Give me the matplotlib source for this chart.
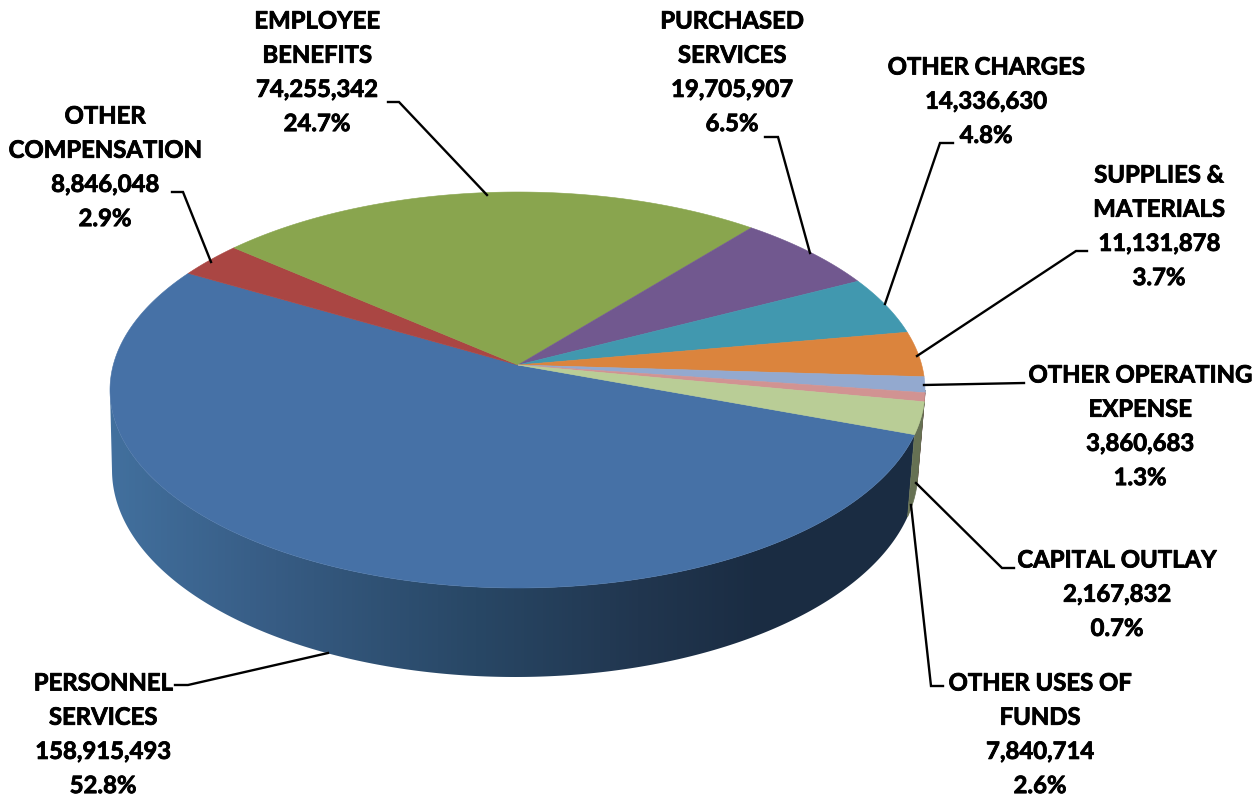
import numpy as np
import matplotlib
matplotlib.use('Agg')
import matplotlib.pyplot as plt
import matplotlib.patheffects as pe
from matplotlib.colors import LinearSegmentedColormap
from matplotlib.patches import Polygon

plt.rcParams['font.family'] = ['Lato', 'DejaVu Sans']

# clockwise from the personnel slice
names = ['PERSONNEL\nSERVICES', 'OTHER\nCOMPENSATION', 'EMPLOYEE\nBENEFITS', 'PURCHASED\nSERVICES',
         'OTHER CHARGES', 'SUPPLIES &\nMATERIALS', 'OTHER OPERATING\nEXPENSE', 'CAPITAL OUTLAY',
         'OTHER USES OF\nFUNDS']
values = [158915493, 8846048, 74255342, 19705907, 14336630, 11131878, 3860683, 2167832, 7840714]
percents = ['52.8%', '2.9%', '24.7%', '6.5%', '4.8%', '3.7%', '1.3%', '0.7%', '2.6%']
colors = ['#4671a6', '#aa4643', '#89a54e', '#71588f', '#4198af', '#db843d', '#93a9cf', '#d19392', '#b9cd96']

# label centre and y of first line
label_pos = [(103, 682), (105, 115), (317, 20), (732, 20), (986, 66), (1159, 174), (1140, 374), (1117, 559), (1040, 682)]

# leader lines
leaders = [
    [(328, 653), (188, 685), (175, 685)],
    [(211, 262), (183, 192), (172, 192)],
    [(487, 195), (399, 102), (388, 102)],
    [(810, 253), (778, 137), (765, 137)],
    [(885, 304), (940, 143), (953, 143)],
    [(917, 356), (1076, 251), (1087, 251)],
    [(924, 385), (1024, 383)],
    [(916, 483), (1002, 568), (1014, 568)],
    [(911, 505), (931, 686), (943, 686)],
]

# pie geometry, in pixels
apex = (518, 365)
cx, cy, rx, ry = 517.5, 390, 407.5, 198
cx2, cy2, rx2, ry2 = 515, 470, 403, 207
start_deg = -20
k = (cy - apex[1]) / ry


def rim_angle(t):
    # perspective: circle stays a circle, centre moves to the apex
    x, y = np.cos(t), np.sin(t)
    yp = (y + k) / (1 + k * y)
    xp = x * np.sqrt(1 - k ** 2) / (1 + k * y)
    return np.arctan2(yp, xp)


fig = plt.figure(figsize=(12.55, 7.97), dpi=100)
ax = fig.add_axes([0, 0, 1, 1])
ax.set_xlim(0, 1255)
ax.set_ylim(797, 0)
ax.axis('off')

shares = np.array(values) / sum(values) * 360
ends = start_deg - np.cumsum(shares)
starts = ends + shares

# side wall first
side_cmap = LinearSegmentedColormap.from_list(
    'side', [(0, '#42709e'), (0.2, '#375c84'), (0.45, '#284765'), (0.65, '#21364f'), (0.8, '#1a2c42'), (1, '#1a2c42')])
for i in range(len(values)):
    t = np.radians(np.linspace(starts[i], ends[i], 300))
    th = np.unwrap(rim_angle(t))
    th = th[np.sin(th) <= 0]
    if len(th) < 2:
        continue
    top = np.c_[cx + rx * np.cos(th), cy - ry * np.sin(th)]
    bot = np.c_[cx2 + rx2 * np.cos(th), cy2 - ry2 * np.sin(th)]
    pts = np.vstack([top, bot[::-1]])
    if i == 0:
        poly = Polygon(pts, closed=True, fc='none', ec='none')
        ax.add_patch(poly)
        im = ax.imshow(np.linspace(0, 1, 256)[None, :], extent=(110, 925, 700, 370), cmap=side_cmap,
                       aspect='auto', zorder=1)
        im.set_clip_path(poly)
    else:
        side = np.array(matplotlib.colors.to_rgb(colors[i])) * 0.55
        ax.add_patch(Polygon(pts, closed=True, fc=side, ec=side, lw=0.5, zorder=1.5))
ax.set_xlim(0, 1255)
ax.set_ylim(797, 0)

# top face
for i in range(len(values)):
    t = np.radians(np.linspace(starts[i], ends[i], 300))
    th = rim_angle(t)
    rim = np.c_[cx + rx * np.cos(th), cy - ry * np.sin(th)]
    pts = np.vstack([[apex], rim])
    ax.add_patch(Polygon(pts, closed=True, fc=colors[i], ec=colors[i], lw=0.4, zorder=2))

for pts in leaders:
    xs, ys = zip(*pts)
    ax.plot(xs, ys, color='black', lw=1.7, zorder=3, solid_joinstyle='miter')

line_h = 34.2
for name, val, pct, (x, y) in zip(names, values, percents, label_pos):
    lines = name.split('\n') + [f'{val:,}', pct]
    for j, line in enumerate(lines):
        txt = ax.text(x, y + j * line_h + 8.5, line, ha='center', va='baseline', fontsize=17.2, fontweight='bold',
                      color='black', zorder=4)
        txt.set_path_effects([pe.withStroke(linewidth=0.6, foreground='black')])

fig.savefig('out.png', dpi=100)
